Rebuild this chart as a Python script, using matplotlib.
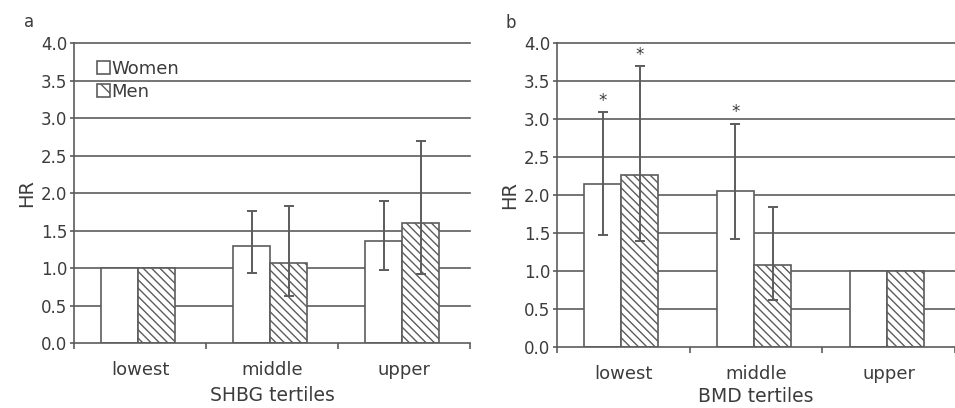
import numpy as np
import matplotlib
matplotlib.use('Agg')
import matplotlib.pyplot as plt
from matplotlib.patches import Patch

# tertile names, same for both panels
categories = ['lowest', 'middle', 'upper']

# panel a: SHBG tertiles (HR with 95% CI, reference tertile has no CI)
shbg_women = [1.0, 1.29, 1.36]
shbg_women_lo = [np.nan, 0.94, 0.97]
shbg_women_hi = [np.nan, 1.76, 1.90]
shbg_men = [1.0, 1.07, 1.60]
shbg_men_lo = [np.nan, 0.63, 0.92]
shbg_men_hi = [np.nan, 1.83, 2.70]

# panel b: BMD tertiles
bmd_women = [2.14, 2.05, 1.0]
bmd_women_lo = [1.47, 1.42, np.nan]
bmd_women_hi = [3.09, 2.94, np.nan]
bmd_men = [2.27, 1.08, 1.0]
bmd_men_lo = [1.40, 0.62, np.nan]
bmd_men_hi = [3.70, 1.84, np.nan]
bmd_women_star = [True, True, False]
bmd_men_star = [True, False, False]

gray = '#5c5c5c'
textc = '#3c3c3c'

plt.rcParams['font.family'] = 'DejaVu Sans'
plt.rcParams['font.size'] = 12
plt.rcParams['hatch.linewidth'] = 1.0
plt.rcParams['hatch.color'] = gray

fig = plt.figure(figsize=(9.55, 4.08), dpi=100)
ax_a = fig.add_axes([0.0775, 0.1593, 0.4147, 0.7353])
ax_b = fig.add_axes([0.5832, 0.1495, 0.4168, 0.7450])


def draw_panel(ax, women, w_lo, w_hi, men, m_lo, m_hi, xlabel, lpad, w_star=None, m_star=None):
    x = np.arange(len(categories)) + 0.5
    bw = 0.28
    xw = x - 0.155
    xm = x + 0.125
    ax.bar(xw, women, width=bw, color='white', edgecolor=gray, linewidth=1.2, zorder=2)
    ax.bar(xm, men, width=bw, color='white', edgecolor=gray, linewidth=1.2,
           hatch='\\\\\\\\', zorder=2)

    # error bars (asymmetric CI)
    for xs, lo, hi in [(xw, w_lo, w_hi), (xm, m_lo, m_hi)]:
        lo = np.array(lo)
        hi = np.array(hi)
        mid = (lo + hi) / 2
        ax.errorbar(xs, mid, yerr=[mid - lo, hi - mid], fmt='none', ecolor=gray,
                    elinewidth=1.4, capsize=3.6, capthick=1.4, zorder=3)

    # significance stars
    for xs, hi, stars in [(xw, w_hi, w_star), (xm, m_hi, m_star)]:
        if stars is None:
            continue
        for xi, h, s in zip(xs, hi, stars):
            if s:
                ax.text(xi, h + 0.03, '*', ha='center', va='bottom', color=textc, fontsize=12)

    ax.set_xlim(0, 3)
    ax.set_ylim(0, 4.0)
    ax.set_yticks(np.arange(0, 4.01, 0.5))
    ax.set_yticklabels(['%.1f' % v for v in np.arange(0, 4.01, 0.5)])
    ax.set_xticks([0, 1, 2, 3])
    ax.set_xticklabels([])
    ax.set_xticks(x, minor=True)
    ax.set_xticklabels(categories, minor=True, fontsize=13)
    ax.tick_params(axis='x', which='minor', length=0, pad=13, colors=textc)
    ax.tick_params(axis='x', which='major', length=4, width=1.2, color=gray)
    ax.tick_params(axis='y', length=3, width=1.2, color=gray, labelcolor=textc, pad=2)

    for v in np.arange(0.5, 4.01, 0.5):
        ax.axhline(v, color=gray, linewidth=1.2, zorder=1, clip_on=False)

    for s in ['top', 'right']:
        ax.spines[s].set_visible(False)
    for s in ['left', 'bottom']:
        ax.spines[s].set_color(gray)
        ax.spines[s].set_linewidth(1.2)
    ax.set_xlabel(xlabel, color=textc, labelpad=lpad, fontsize=13.5)
    ax.set_ylabel('HR', color=textc, labelpad=3, fontsize=14)


draw_panel(ax_a, shbg_women, shbg_women_lo, shbg_women_hi,
           shbg_men, shbg_men_lo, shbg_men_hi, 'SHBG tertiles', 5)
draw_panel(ax_b, bmd_women, bmd_women_lo, bmd_women_hi,
           bmd_men, bmd_men_lo, bmd_men_hi, 'BMD tertiles', 3,
           bmd_women_star, bmd_men_star)

# legend only in panel a
handles = [Patch(facecolor='white', edgecolor=gray, linewidth=1.2, label='Women'),
           Patch(facecolor='white', edgecolor=gray, linewidth=1.2, hatch='\\\\', label='Men')]
ax_a.legend(handles=handles, loc='upper left', bbox_to_anchor=(0.035, 0.975),
            frameon=False, borderpad=0, handlelength=0.7, handleheight=0.7,
            handletextpad=0.1, labelspacing=0.3, labelcolor=textc, fontsize=13)

fig.text(0.025, 0.933, 'a', color=textc, fontsize=12, va='baseline')
fig.text(0.529, 0.931, 'b', color=textc, fontsize=12, va='baseline')

fig.savefig('out.png', dpi=100)
